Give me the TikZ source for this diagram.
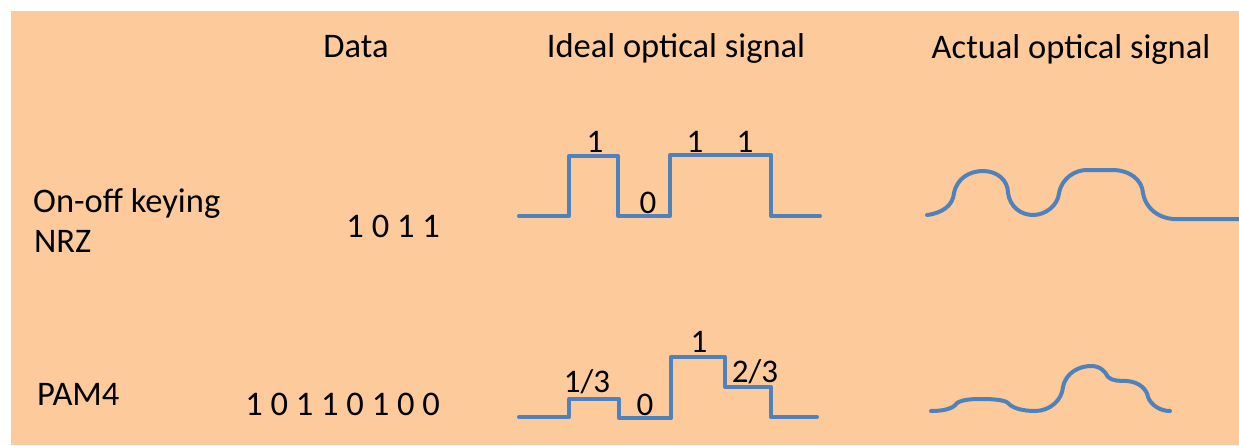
\documentclass[tikz,border=0pt]{standalone}
\usepackage{fontspec}
\setmainfont{Carlito}
\definecolor{bgorange}{HTML}{FDCB9B}
\definecolor{sigblue}{HTML}{4F81BD}
\begin{document}
\begin{tikzpicture}[x=1pt,y=-1pt,
  txt/.style={inner sep=0pt,font=\fontsize{34.5}{41}\selectfont},
  lbl/.style={inner sep=0pt,font=\fontsize{33}{40}\selectfont},
  sig/.style={draw=sigblue,line width=4pt,line join=round,line cap=round}]
\useasboundingbox (0,0) rectangle (1239,445);
\fill[white] (0,0) rectangle (1239,445);
\fill[bgorange] (11,11) rectangle (1239,445);
% headers
\node[txt,anchor=base] (hdata) at (356,57) {Data};
\node[txt,anchor=base] (hideal) at (676,57) {Ideal optical signal};
\node[txt,anchor=base] (hactual) at (1071,58) {Actual optical signal};
% row labels
\node[txt,anchor=base west] (ook) at (33,212) {On-off keying};
\node[txt,anchor=base west] (nrz) at (34,252) {NRZ};
\node[txt,anchor=base west] (pam) at (37,405) {PAM4};
\node[txt,anchor=base east] (d1) at (440,237) {1 0 1 1};
\node[txt,anchor=base east] (d2) at (440,415) {1 0 1 1 0 1 0 0};
% ideal NRZ
\draw[sig] (519,216) -- (569,216) -- (569,156) -- (618,156) -- (618,216) -- (670,216) -- (670,155) -- (771,155) -- (771,216) -- (820,216);
\node[lbl,anchor=base] (n1) at (595,152) {1};
\node[lbl,anchor=base] (n0) at (648,213) {0};
\node[lbl,anchor=base] (n2) at (695,152) {1};
\node[lbl,anchor=base] (n3) at (745,152) {1};
% ideal PAM4
\draw[sig] (519,417) -- (569,417) -- (569,399) -- (619,399) -- (619,418) -- (671,418) -- (671,357) -- (725,357) -- (725,387) -- (771,387) -- (771,417) -- (817,417);
\node[lbl,anchor=base] (p1) at (587,392) {1/3};
\node[lbl,anchor=base] (p0) at (645,415) {0};
\node[lbl,anchor=base] (p2) at (699,352) {1};
\node[lbl,anchor=base] (p3) at (755,382) {2/3};
% actual NRZ
\draw[sig] (927,215) .. controls (943,213) and (953,205) .. (954,193)
  .. controls (957,178) and (970,171) .. (983,171)
  .. controls (997,171) and (1008,180) .. (1008,193)
  .. controls (1010,207) and (1021,215) .. (1033,215)
  .. controls (1046,215) and (1058,205) .. (1059,193)
  .. controls (1062,178) and (1075,170) .. (1087,170)
  -- (1112,170)
  .. controls (1130,170) and (1142,180) .. (1143,193)
  .. controls (1146,210) and (1160,218) .. (1173,219)
  -- (1239,219);
% actual PAM4
\draw[sig] (931,411) .. controls (943,411) and (953,409) .. (957,403)
  .. controls (963,399) and (975,399) .. (983,399)
  .. controls (993,399) and (1005,400) .. (1008,403)
  .. controls (1013,409) and (1025,411) .. (1035,411)
  .. controls (1050,411) and (1062,400) .. (1063,387)
  .. controls (1066,372) and (1080,366) .. (1091,366)
  .. controls (1100,366) and (1105,371) .. (1108,377)
  .. controls (1112,381) and (1120,381) .. (1127,381)
  .. controls (1140,382) and (1147,390) .. (1148,397)
  .. controls (1151,405) and (1160,411) .. (1170,411);
\end{tikzpicture}
\end{document}
